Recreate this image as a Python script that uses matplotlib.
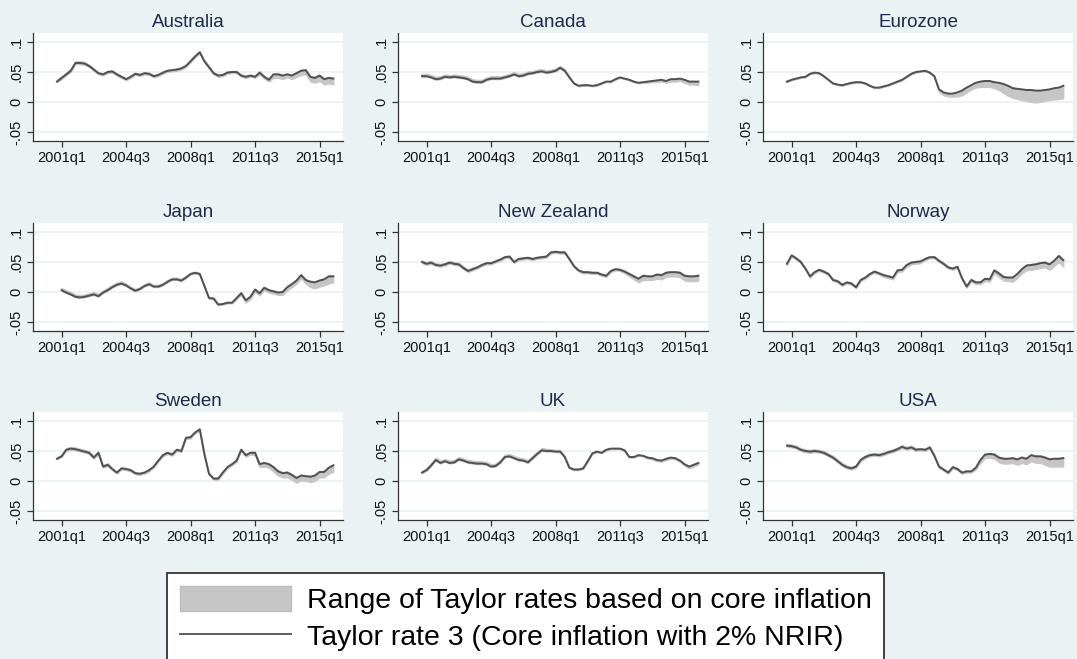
import matplotlib
matplotlib.use("Agg")
import matplotlib.pyplot as plt
from matplotlib.patches import Patch
from matplotlib.lines import Line2D

plt.rcParams['font.family'] = ['Liberation Sans', 'DejaVu Sans']

countries = ["Australia", "Canada", "Eurozone", "Japan", "New Zealand",
             "Norway", "Sweden", "UK", "USA"]
# first quarter of each series
starts = ["2000q4", "2000q4", "2000q4", "2001q1", "2000q4",
          "2000q4", "2000q4", "2000q4", "2000q4"]

xtick_labels = ["2001q1", "2004q3", "2008q1", "2011q3", "2015q1"]
ytick_vals = [-0.05, 0, 0.05, 0.1]
ytick_labels = ["-.05", "0", ".05", ".1"]

# Taylor rate 3 (core inflation, 2% NRIR)
au_line = [.034,.040,.046,.052,.065,.065,.064,.060,.054,.048,.046,.050,.051,.046,.042,.038,.042,.047,.045,.048,.047,.043,.045,.049,.052,.053,.054,.056,.060,.068,.076,.083,.068,.058,.048,.044,.045,.049,.050,.050,.044,.042,.044,.042,.049,.042,.037,.046,.046,.044,.046,.044,.048,.052,.053,.042,.040,.044,.038,.040,.039]
au_hi = [.037,.043,.049,.055,.068,.068,.067,.062,.056,.050,.048,.052,.053,.048,.044,.040,.044,.049,.047,.050,.049,.045,.047,.051,.054,.055,.056,.058,.062,.070,.078,.085,.070,.060,.050,.046,.047,.051,.052,.052,.046,.044,.046,.044,.051,.044,.039,.048,.048,.046,.048,.046,.050,.054,.055,.044,.042,.046,.040,.042,.041]
au_lo = [.033,.038,.044,.050,.063,.063,.062,.058,.052,.046,.044,.048,.049,.044,.040,.036,.040,.045,.043,.046,.045,.041,.043,.047,.050,.051,.052,.054,.058,.066,.074,.081,.066,.056,.046,.042,.043,.047,.048,.048,.042,.040,.042,.040,.046,.039,.034,.040,.040,.038,.041,.038,.042,.045,.046,.034,.032,.035,.029,.031,.029]

ca_line = [.043,.043,.041,.038,.039,.042,.041,.042,.041,.040,.038,.034,.033,.033,.037,.039,.039,.039,.041,.043,.046,.043,.044,.047,.048,.050,.051,.049,.050,.052,.057,.052,.041,.031,.027,.028,.028,.027,.028,.031,.034,.034,.038,.041,.039,.037,.034,.032,.033,.034,.035,.036,.037,.035,.038,.038,.039,.037,.034,.034,.034]
ca_hi = [.047,.047,.045,.042,.043,.046,.045,.046,.045,.044,.042,.038,.037,.037,.041,.043,.043,.043,.045,.047,.050,.047,.048,.051,.052,.054,.055,.053,.054,.056,.060,.055,.043,.032,.028,.029,.029,.028,.029,.032,.035,.035,.039,.042,.040,.038,.035,.033,.034,.035,.036,.037,.038,.036,.039,.039,.040,.038,.035,.035,.035]
ca_lo = [.042,.042,.040,.037,.038,.041,.040,.041,.040,.039,.037,.033,.032,.032,.036,.038,.038,.038,.040,.042,.045,.042,.043,.046,.047,.049,.050,.048,.049,.051,.056,.051,.040,.030,.026,.027,.027,.026,.027,.030,.033,.033,.037,.040,.038,.036,.033,.031,.032,.032,.033,.033,.034,.032,.034,.034,.035,.032,.029,.029,.028]

eu_line = [.034,.037,.039,.041,.042,.047,.049,.048,.043,.037,.031,.029,.028,.030,.032,.033,.033,.031,.027,.024,.024,.026,.028,.031,.034,.037,.042,.047,.050,.051,.052,.049,.043,.021,.016,.014,.014,.016,.019,.024,.028,.032,.034,.035,.035,.033,.032,.030,.027,.023,.022,.021,.020,.020,.019,.019,.020,.021,.023,.024,.027]
eu_hi = [.035,.038,.040,.042,.043,.048,.050,.049,.044,.038,.032,.030,.029,.031,.033,.034,.034,.032,.028,.025,.025,.027,.029,.032,.035,.038,.043,.048,.051,.052,.053,.050,.044,.022,.017,.015,.015,.017,.020,.025,.029,.033,.035,.036,.036,.034,.033,.031,.028,.024,.023,.022,.021,.021,.020,.020,.021,.022,.024,.025,.028]
eu_lo = [.033,.036,.038,.040,.041,.046,.048,.047,.042,.036,.030,.028,.027,.029,.031,.032,.032,.030,.026,.023,.023,.025,.027,.030,.033,.036,.041,.046,.049,.050,.051,.048,.042,.017,.011,.009,.009,.009,.011,.016,.021,.024,.025,.025,.025,.023,.020,.015,.010,.007,.005,.003,.002,.000,-.001,.000,.002,.003,.004,.005,.006]

jp_line = [.003,-.001,-.004,-.008,-.009,-.008,-.006,-.004,-.007,-.001,.003,.008,.012,.014,.011,.006,.002,.005,.010,.013,.009,.009,.012,.017,.021,.021,.019,.024,.030,.032,.030,.010,-.010,-.011,-.021,-.020,-.018,-.018,-.010,-.002,-.014,-.008,.004,-.002,.007,.003,.001,-.001,.000,.008,.013,.019,.028,.020,.017,.016,.019,.021,.026,.026]
jp_hi = [.007,.003,.000,-.004,-.005,-.004,-.002,.000,-.003,.003,.007,.012,.016,.018,.014,.009,.005,.008,.013,.016,.012,.012,.015,.020,.024,.024,.022,.027,.032,.034,.032,.012,-.008,-.009,-.019,-.018,-.016,-.016,-.008,.000,-.012,-.006,.006,.000,.009,.005,.003,.001,.002,.010,.015,.021,.030,.022,.019,.018,.021,.023,.028,.028]
jp_lo = [.002,-.002,-.005,-.009,-.010,-.009,-.007,-.005,-.008,-.002,.002,.007,.011,.013,.010,.005,.001,.004,.009,.012,.008,.008,.011,.016,.020,.020,.018,.023,.029,.031,.029,.009,-.011,-.012,-.022,-.021,-.019,-.019,-.012,-.005,-.018,-.012,.000,-.006,.003,-.001,-.003,-.005,-.005,.003,.008,.014,.023,.014,.008,.006,.009,.011,.014,.016]

nz_line = [.050,.047,.049,.045,.044,.046,.049,.047,.046,.040,.035,.038,.041,.045,.048,.048,.051,.054,.058,.059,.050,.055,.056,.057,.055,.057,.058,.059,.066,.067,.066,.066,.055,.043,.036,.033,.033,.032,.032,.029,.027,.035,.038,.037,.034,.030,.026,.022,.027,.026,.026,.029,.028,.032,.033,.033,.032,.027,.026,.026,.027]
nz_hi = [.053,.050,.052,.048,.047,.049,.052,.050,.049,.043,.038,.041,.043,.047,.050,.050,.053,.056,.060,.061,.052,.057,.058,.059,.057,.059,.060,.061,.068,.069,.068,.068,.057,.045,.038,.035,.035,.034,.034,.031,.029,.037,.040,.039,.036,.032,.028,.024,.029,.028,.028,.031,.030,.034,.035,.035,.034,.029,.028,.028,.029]
nz_lo = [.048,.045,.047,.043,.042,.044,.047,.045,.044,.038,.033,.036,.039,.043,.046,.046,.049,.052,.056,.057,.048,.053,.054,.055,.053,.055,.056,.057,.064,.065,.064,.064,.053,.041,.034,.031,.031,.030,.030,.027,.025,.033,.036,.035,.031,.026,.021,.016,.020,.020,.020,.022,.021,.025,.026,.026,.025,.019,.018,.018,.019]

no_line = [.047,.061,.056,.050,.039,.026,.033,.037,.034,.030,.020,.018,.012,.016,.014,.008,.020,.024,.030,.034,.031,.028,.026,.024,.036,.037,.045,.049,.050,.051,.055,.058,.058,.052,.047,.041,.039,.042,.023,.009,.020,.016,.016,.022,.021,.036,.031,.025,.024,.024,.030,.038,.044,.045,.046,.048,.049,.046,.052,.060,.053]
no_hi = [.049,.063,.058,.052,.041,.028,.035,.039,.036,.032,.022,.020,.014,.018,.016,.010,.022,.026,.032,.036,.033,.030,.028,.026,.038,.039,.047,.051,.052,.053,.057,.060,.060,.054,.049,.043,.041,.044,.025,.011,.022,.018,.018,.024,.023,.038,.033,.027,.026,.026,.032,.040,.046,.047,.048,.050,.051,.048,.054,.062,.055]
no_lo = [.045,.059,.054,.048,.037,.024,.031,.035,.032,.028,.018,.016,.010,.014,.012,.006,.018,.022,.028,.032,.029,.025,.023,.021,.033,.034,.042,.046,.047,.048,.053,.056,.056,.050,.045,.039,.037,.040,.021,.007,.017,.013,.013,.018,.017,.031,.025,.019,.018,.017,.023,.031,.036,.037,.038,.040,.041,.037,.043,.050,.042]

se_line = [.037,.041,.052,.054,.053,.051,.049,.047,.039,.047,.024,.027,.020,.014,.021,.020,.018,.013,.012,.014,.018,.024,.034,.043,.047,.044,.052,.050,.072,.073,.081,.086,.045,.012,.004,.004,.014,.023,.028,.034,.052,.043,.047,.047,.028,.030,.028,.023,.016,.013,.014,.010,.005,.009,.008,.007,.009,.015,.015,.022,.026]
se_hi = [.040,.044,.055,.057,.056,.054,.052,.050,.042,.050,.027,.030,.022,.016,.023,.022,.020,.015,.014,.016,.020,.026,.036,.045,.049,.046,.054,.052,.074,.075,.083,.088,.047,.014,.006,.006,.016,.025,.030,.036,.054,.045,.049,.049,.030,.032,.030,.025,.018,.015,.016,.012,.007,.011,.010,.009,.011,.017,.017,.024,.028]
se_lo = [.036,.040,.050,.052,.051,.049,.047,.045,.037,.045,.022,.025,.018,.012,.019,.018,.016,.011,.010,.012,.016,.022,.032,.041,.045,.042,.050,.048,.070,.071,.079,.084,.043,.010,.002,.002,.012,.021,.026,.032,.050,.040,.044,.043,.023,.024,.022,.016,.009,.006,.006,.002,-.003,.001,.000,-.002,.000,.006,.006,.012,.015]

uk_line = [.014,.018,.026,.035,.030,.033,.030,.031,.036,.034,.031,.030,.029,.029,.028,.024,.025,.031,.040,.041,.038,.035,.034,.031,.038,.045,.051,.050,.050,.049,.049,.040,.022,.019,.019,.021,.033,.046,.049,.047,.052,.054,.054,.054,.051,.040,.040,.043,.042,.039,.038,.035,.034,.037,.039,.038,.034,.028,.024,.027,.030]
uk_hi = [.017,.022,.030,.039,.034,.037,.034,.035,.040,.038,.035,.034,.033,.033,.032,.028,.029,.035,.044,.045,.042,.039,.038,.035,.042,.049,.055,.054,.053,.052,.052,.042,.024,.021,.021,.023,.035,.048,.050,.048,.053,.055,.055,.055,.052,.041,.041,.044,.043,.040,.039,.036,.035,.038,.040,.039,.035,.029,.025,.028,.031]
uk_lo = [.013,.017,.025,.034,.029,.032,.029,.030,.035,.033,.030,.029,.028,.028,.027,.023,.024,.030,.039,.040,.037,.034,.033,.030,.037,.044,.050,.049,.049,.048,.048,.039,.021,.018,.018,.020,.032,.045,.048,.046,.051,.053,.053,.053,.050,.039,.039,.042,.041,.037,.036,.033,.032,.035,.037,.036,.032,.025,.021,.024,.027]

us_line = [.059,.058,.056,.052,.050,.049,.050,.049,.047,.043,.039,.033,.027,.023,.021,.024,.035,.040,.043,.044,.043,.045,.048,.050,.053,.057,.054,.056,.052,.053,.052,.056,.042,.024,.019,.014,.023,.020,.014,.016,.016,.022,.035,.044,.045,.044,.039,.037,.037,.038,.036,.039,.037,.043,.041,.041,.039,.036,.037,.037,.038]
us_hi = [.062,.061,.059,.055,.053,.052,.053,.052,.050,.046,.042,.036,.030,.026,.024,.027,.038,.043,.046,.047,.046,.048,.051,.053,.056,.060,.057,.059,.055,.055,.054,.058,.044,.026,.021,.016,.025,.022,.016,.018,.018,.024,.037,.046,.047,.046,.041,.039,.039,.040,.038,.041,.039,.045,.043,.043,.041,.038,.039,.039,.040]
us_lo = [.057,.056,.054,.050,.048,.047,.048,.047,.045,.041,.037,.031,.025,.021,.019,.022,.033,.038,.041,.042,.041,.043,.046,.048,.051,.055,.052,.054,.050,.051,.050,.054,.040,.022,.017,.012,.021,.018,.012,.014,.014,.019,.030,.038,.039,.037,.031,.029,.029,.030,.027,.030,.028,.033,.030,.030,.027,.024,.024,.024,.024]

lines = [au_line, ca_line, eu_line, jp_line, nz_line, no_line, se_line, uk_line, us_line]
highs = [au_hi, ca_hi, eu_hi, jp_hi, nz_hi, no_hi, se_hi, uk_hi, us_hi]
lows = [au_lo, ca_lo, eu_lo, jp_lo, nz_lo, no_lo, se_lo, uk_lo, us_lo]


def qnum(s):
    y, q = s.split('q')
    return int(y) * 4 + int(q) - 1


bg = '#EAF2F3'
band_col = '#C6C6C6'
line_col = '#505050'
title_col = '#1C2B4C'

W, H = 1077, 659
fig = plt.figure(figsize=(W / 100, H / 100), dpi=100, facecolor=bg)

col_left = [33, 398, 763]
row_top = [33, 223, 412]
pw, ph = 310, 108

x0 = qnum("2001q1")
xticks = [qnum(s) for s in xtick_labels]

for i, name in enumerate(countries):
    r, c = divmod(i, 3)
    ax = fig.add_axes([col_left[c] / W, 1 - (row_top[r] + ph) / H, pw / W, ph / H])
    ax.set_facecolor('white')

    s = qnum(starts[i])
    x = [s + k for k in range(len(lines[i]))]
    ax.fill_between(x, lows[i], highs[i], color=band_col, lw=0.8, zorder=2)
    ax.plot(x, lines[i], color=line_col, lw=1.4, zorder=3)

    ax.set_xlim(x0 - 6.2, x0 + 61.1)
    ax.set_ylim(-0.065, 0.115)
    ax.set_xticks(xticks)
    ax.set_xticklabels(xtick_labels)
    ax.set_yticks(ytick_vals)
    ax.set_yticklabels(ytick_labels)
    for lab in ax.get_yticklabels():
        lab.set_rotation(90)
        lab.set_va('center')
    ax.grid(axis='y', color=bg, lw=1.3, zorder=0)
    ax.set_axisbelow(True)
    ax.tick_params(axis='both', direction='out', length=4, width=0.9,
                   color='#333333', labelsize=10.5, labelcolor='#111111', pad=3)
    for side in ['top', 'right']:
        ax.spines[side].set_visible(False)
    for side in ['left', 'bottom']:
        ax.spines[side].set_color('#333333')
        ax.spines[side].set_linewidth(0.9)
    ax.set_title(name, fontsize=13.5, color=title_col, pad=4)

handles = [Patch(facecolor=band_col, edgecolor='#BDBDBD'),
           Line2D([0], [0], color=line_col, lw=1.3)]
labels = ["Range of Taylor rates based on core inflation",
          "Taylor rate 3 (Core inflation with 2% NRIR)"]
leg = fig.legend(handles, labels, loc='upper left',
                 bbox_to_anchor=(167 / W, 1 - 573 / H), fontsize=20.5,
                 frameon=True, fancybox=False, edgecolor='#333333',
                 framealpha=1, handlelength=3.9, handleheight=1.0,
                 borderpad=0.45, labelspacing=0.3, handletextpad=0.55,
                 borderaxespad=0)
leg.get_frame().set_linewidth(1.3)

fig.savefig("out.png", dpi=100, facecolor=bg)
